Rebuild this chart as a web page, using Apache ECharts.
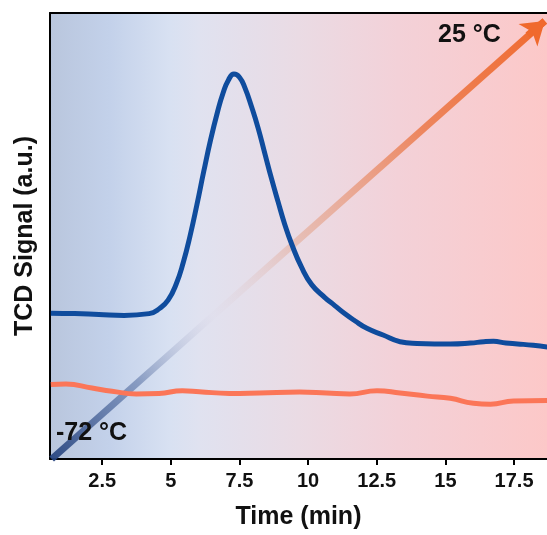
<!DOCTYPE html>
<html><head><meta charset="utf-8">
<script src="https://cdn.jsdelivr.net/npm/echarts@6/dist/echarts.min.js"></script>
<style>html,body{margin:0;padding:0;background:#fff}#c{width:547px;height:535px}</style>
</head><body><div id="c"></div>
<script>
// ---- data ----
const xTicks = [2.5, 5, 7.5, 10, 12.5, 15, 17.5];
const blueTime = [0.63,1.5,2.38,3.3,4.21,4.6,4.9,5.2,5.45,5.7,5.95,6.2,6.45,6.7,6.9,7.1,7.3,7.5,7.7,7.95,8.18,8.42,8.67,8.91,9.15,9.40,9.76,10.13,10.61,10.97,11.33,11.70,12.14,12.73,13.35,13.97,14.6,15.18,15.91,16.40,16.75,17.20,17.63,18.20,18.72];
const blueSignal = [32.7,32.6,32.4,32.2,32.6,33.8,35.6,39.3,44.0,50.0,57.0,64.5,71.6,77.8,82.0,85.0,86.3,85.6,83.2,78.8,74.2,68.6,62.8,57.6,52.6,48.2,43.0,39.1,36.2,34.4,32.6,31.0,29.3,27.8,26.3,25.9,25.8,25.8,26.0,26.3,26.4,26.0,25.8,25.5,25.1];
const orangeTime = [0.63,1.18,2.13,2.86,3.74,4.57,5.42,6.04,7.14,8.23,9.69,10.68,11.52,12.51,13.35,14.34,15.18,16.02,16.64,17.48,18.72];
const orangeSignal = [16.7,16.8,15.9,15.2,14.6,14.7,15.3,15.1,14.7,14.8,15.0,14.8,14.6,15.3,14.8,14.1,13.6,12.5,12.3,13.0,13.1];
const arrowStart = [0.66, 0];
const arrowEnd = [18.62, 98.2];
const arrowHeadFrom = [18.0, 95.0];
const labelHigh = '25 °C';
const labelLow = '-72 °C';

const pair = (xs, ys) => xs.map((x, i) => [x, ys[i]]);
const FONT = '"Liberation Sans", Arial, sans-serif';
const chart = echarts.init(document.getElementById('c'), null, {renderer: 'canvas'});
chart.setOption({
  animation: false,
  backgroundColor: '#ffffff',
  grid: {
    left: 50, right: 0, top: 13, bottom: 72, show: true, borderWidth: 0,
    backgroundColor: new echarts.graphic.LinearGradient(0, 0, 1, 0, [
      {offset: 0, color: '#b9c6dd'},
      {offset: 0.12, color: '#c3d1ea'},
      {offset: 0.24, color: '#d8e1f2'},
      {offset: 0.3, color: '#e0e2f0'},
      {offset: 0.5, color: '#eadbe4'},
      {offset: 0.7, color: '#f3d1d8'},
      {offset: 1, color: '#fcc8c8'}
    ])
  },
  xAxis: [{
    type: 'value', min: 0.6, max: 18.7,
    name: 'Time (min)', nameLocation: 'middle', nameGap: 46,
    nameTextStyle: {fontFamily: FONT, fontWeight: 'bold', fontSize: 25, color: '#111'},
    axisLine: {show: true, onZero: false, lineStyle: {color: '#000', width: 2}},
    axisTick: {show: true, length: 6, lineStyle: {color: '#000', width: 2}, customValues: xTicks},
    axisLabel: {customValues: xTicks, margin: 12, fontFamily: FONT, fontWeight: 'bold', fontSize: 20, color: '#111'},
    splitLine: {show: false}
  }, {
    type: 'value', min: 0.6, max: 18.7, position: 'top',
    axisLine: {show: true, onZero: false, lineStyle: {color: '#000', width: 2}},
    axisTick: {show: false}, axisLabel: {show: false}, splitLine: {show: false}
  }],
  yAxis: {
    type: 'value', min: 0, max: 100,
    name: 'TCD Signal (a.u.)', nameLocation: 'middle', nameGap: 12,
    nameTextStyle: {fontFamily: FONT, fontWeight: 'bold', fontSize: 25, color: '#111'},
    axisLine: {show: true, onZero: false, lineStyle: {color: '#000', width: 2}},
    axisTick: {show: false}, axisLabel: {show: false}, splitLine: {show: false}
  },
  series: [
    {
      type: 'lines', coordinateSystem: 'cartesian2d', z: 1, silent: true,
      data: [{coords: [arrowStart, arrowEnd]}],
      symbol: ['none', 'none'],
      lineStyle: {width: 7, opacity: 1, curveness: 0,
        color: new echarts.graphic.LinearGradient(0, 1, 1, 0, [
          {offset: 0, color: 'rgba(35,65,125,0.95)'},
          {offset: 0.18, color: 'rgba(90,115,165,0.6)'},
          {offset: 0.33, color: 'rgba(220,215,230,0.15)'},
          {offset: 0.5, color: 'rgba(228,170,150,0.6)'},
          {offset: 0.75, color: 'rgba(236,125,80,0.9)'},
          {offset: 1, color: 'rgba(240,105,45,1)'}
        ])}
    },
    {
      type: 'lines', coordinateSystem: 'cartesian2d', z: 1, silent: true,
      data: [{coords: [arrowHeadFrom, arrowEnd]}],
      symbol: ['none', 'arrow'], symbolSize: [20, 22],
      lineStyle: {width: 7, opacity: 1, color: '#f0692d', curveness: 0}
    },
    {
      type: 'line', data: pair(orangeTime, orangeSignal), showSymbol: false, smooth: 0.5, z: 3,
      lineStyle: {color: '#fb7658', width: 5}
    },
    {
      type: 'line', data: pair(blueTime, blueSignal), showSymbol: false, smooth: 0.5, z: 4,
      lineStyle: {color: '#0f4c9d', width: 5}
    }
  ],
  graphic: [
    {type: 'text', left: 438, top: 23, z: 10, style: {text: labelHigh, font: 'bold 25px ' + FONT, fill: '#111'}},
    {type: 'text', left: 56, top: 421, z: 10, style: {text: labelLow, font: 'bold 25px ' + FONT, fill: '#111'}}
  ]
});
</script></body></html>
